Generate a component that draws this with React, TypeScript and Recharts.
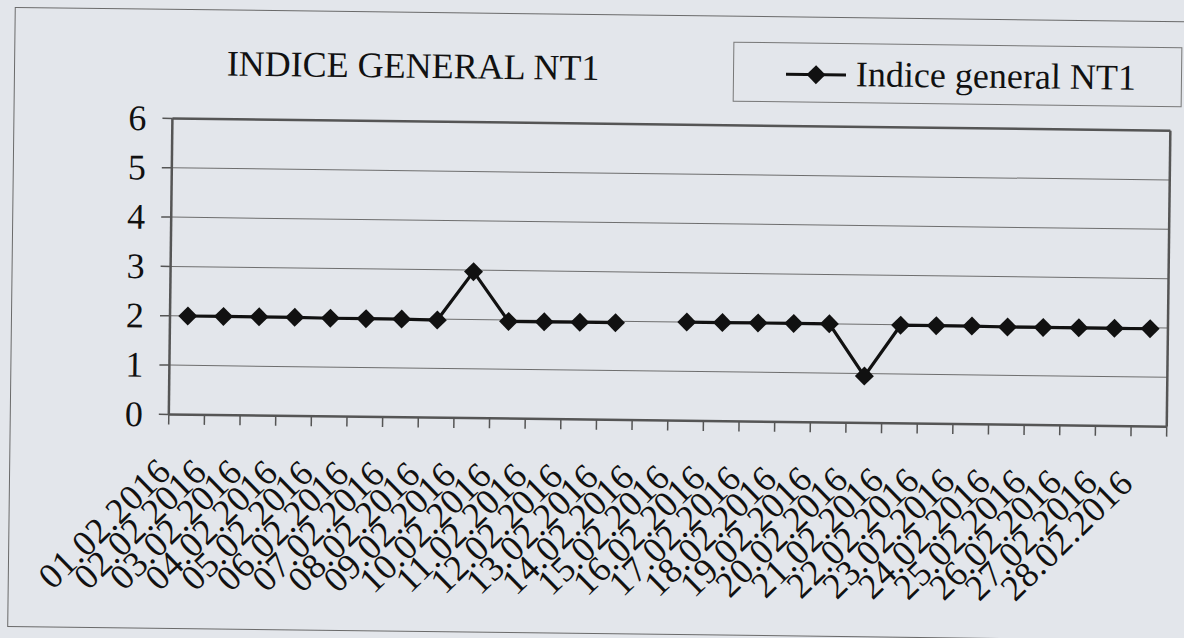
import React from 'react';
import { LineChart, Line, XAxis, YAxis, CartesianGrid, ReferenceLine, Legend } from 'recharts';

const chartTitle = 'INDICE GENERAL NT1';
const seriesName = 'Indice general NT1';

const dates: string[] = [
  '01.02.2016', '02.02.2016', '03.02.2016', '04.02.2016', '05.02.2016', '06.02.2016', '07.02.2016',
  '08.02.2016', '09.02.2016', '10.02.2016', '11.02.2016', '12.02.2016', '13.02.2016', '14.02.2016',
  '15.02.2016', '16.02.2016', '17.02.2016', '18.02.2016', '19.02.2016', '20.02.2016', '21.02.2016',
  '22.02.2016', '23.02.2016', '24.02.2016', '25.02.2016', '26.02.2016', '27.02.2016', '28.02.2016',
];

const indiceValues: (number | null)[] = [
  2.0, 2.0, 2.0, 2.0, 1.99, 1.99, 1.99, 1.98, 2.97, 1.97, 1.97, 1.97, 1.97, null,
  2.0, 2.0, 2.0, 2.0, 2.0, 0.95, 1.99, 1.99, 1.99, 1.98, 1.98, 1.98, 1.98, 1.98,
];

const yTicks: number[] = [0, 1, 2, 3, 4, 5, 6];

const data = dates.map((d, i) => ({ date: d, value: indiceValues[i] }));

const W = 1184;
const H = 638;
const PLOT_LEFT = 170;
const PLOT_RIGHT = 1168;
const PLOT_TOP = 123.6;
const PLOT_BOTTOM = 419.6;
const X_AXIS_H = 200;
const BAND = (PLOT_RIGHT - PLOT_LEFT) / dates.length;

const FONT = 'Liberation Serif, Tinos, Times New Roman, serif';
const INK = '#111111';
const AXIS = '#555555';
const GRID = '#6e6e6e';
const BG = '#e3e6eb';

function XTick(props: any) {
  const { x, y, payload, index } = props;
  const ax = x - 13;
  const ay = y + 59;
  return (
    <g>
      <line x1={x - BAND / 2} y1={y} x2={x - BAND / 2} y2={y + 10} stroke={AXIS} strokeWidth={1.5} />
      {index === dates.length - 1 ? (
        <line x1={x + BAND / 2} y1={y} x2={x + BAND / 2} y2={y + 10} stroke={AXIS} strokeWidth={1.5} />
      ) : null}
      <text
        x={ax}
        y={ay}
        transform={`rotate(-45 ${ax} ${ay})`}
        textAnchor="end"
        fontSize={36}
        fill={INK}
        style={{ fontFamily: FONT, letterSpacing: '0.6px' }}
      >
        {payload.value}
      </text>
    </g>
  );
}

function YTick(props: any) {
  const { x, y, payload } = props;
  return (
    <text x={x} y={y} dy={12} textAnchor="end" fontSize={36} fill={INK} style={{ fontFamily: FONT }}>
      {payload.value}
    </text>
  );
}

function Diamond(props: any) {
  const { cx, cy, index } = props;
  if (cx == null || cy == null || Number.isNaN(cy)) return <g key={`d-${index}`} />;
  const r = 9.5;
  return (
    <path
      key={`d-${index}`}
      d={`M${cx},${cy - r}L${cx + r},${cy}L${cx},${cy + r}L${cx - r},${cy}Z`}
      fill={INK}
    />
  );
}

function LegendBox() {
  return (
    <div
      style={{
        width: 449,
        height: 60,
        boxSizing: 'border-box',
        border: '1px solid #777',
        position: 'relative',
      }}
    >
      <svg width={80} height={60} style={{ position: 'absolute', left: 45, top: 0 }}>
        <line x1={7} y1={31} x2={67} y2={31} stroke={INK} strokeWidth={3} />
        <path d="M37,21.5L46.5,31L37,40.5L27.5,31Z" fill={INK} />
      </svg>
      <div
        style={{
          position: 'absolute',
          left: 122,
          top: 12,
          fontFamily: FONT,
          fontSize: 36,
          lineHeight: '36px',
          color: INK,
          whiteSpace: 'nowrap',
        }}
      >
        {seriesName}
      </div>
    </div>
  );
}

export default function App() {
  return (
    <div
      style={{
        position: 'absolute',
        left: 0,
        top: 0,
        width: W,
        height: H,
        background: BG,
        overflow: 'hidden',
        fontFamily: FONT,
      }}
    >
      <div
        style={{
          position: 'absolute',
          left: 0,
          top: 0,
          width: W,
          height: H,
          transform: 'rotate(0.7deg)',
          transformOrigin: '50% 50%',
        }}
      >
        <div
          style={{
            position: 'absolute',
            left: 11,
            top: 14,
            width: 1220,
            height: 620,
            border: '1px solid #6a6a6a',
            boxSizing: 'border-box',
          }}
        />
        <div
          style={{
            position: 'absolute',
            left: 210,
            top: 50,
            width: 400,
            textAlign: 'center',
            fontFamily: FONT,
            fontSize: 36,
            lineHeight: '36px',
            color: INK,
            whiteSpace: 'nowrap',
          }}
        >
          {chartTitle}
        </div>
        <LineChart
          width={W}
          height={H}
          data={data}
          margin={{ top: PLOT_TOP, right: W - PLOT_RIGHT, left: 0, bottom: H - PLOT_BOTTOM - X_AXIS_H }}
          style={{ fontFamily: FONT }}
        >
          <CartesianGrid horizontal vertical={false} stroke={GRID} strokeWidth={1} />
          <CartesianGrid
            horizontal={false}
            vertical
            verticalCoordinatesGenerator={(p: any) => [p.offset.left + p.offset.width]}
            stroke={AXIS}
            strokeWidth={2.5}
          />
          <ReferenceLine y={6} stroke={AXIS} strokeWidth={2.5} />
          <XAxis
            dataKey="date"
            height={X_AXIS_H}
            interval={0}
            padding={{ left: BAND / 2, right: BAND / 2 }}
            tickLine={false}
            tickSize={0}
            tickMargin={0}
            axisLine={{ stroke: AXIS, strokeWidth: 2.5 }}
            tick={<XTick />}
          />
          <YAxis
            width={PLOT_LEFT}
            domain={[0, 6]}
            ticks={yTicks}
            interval={0}
            tickSize={10}
            tickMargin={16}
            tickLine={{ stroke: AXIS, strokeWidth: 1.5 }}
            axisLine={{ stroke: AXIS, strokeWidth: 2.5 }}
            tick={<YTick />}
          />
          <Legend
            verticalAlign="middle"
            align="center"
            wrapperStyle={{ position: 'absolute', left: 730, top: 40, width: 449, height: 60 }}
            content={() => <LegendBox />}
          />
          <Line
            type="linear"
            dataKey="value"
            name={seriesName}
            stroke={INK}
            strokeWidth={3.2}
            dot={(p: any) => <Diamond {...p} />}
            activeDot={false}
            connectNulls={false}
            isAnimationActive={false}
          />
        </LineChart>
      </div>
    </div>
  );
}
